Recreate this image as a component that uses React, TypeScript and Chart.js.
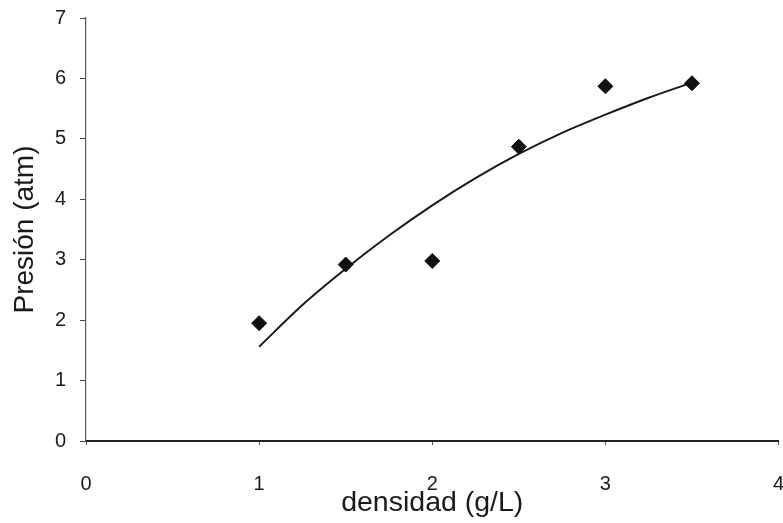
import React, { useEffect, useRef } from "react";
import { Chart, registerables } from "chart.js";

Chart.register(...registerables);

const densidad = [1, 1.5, 2, 2.5, 3, 3.5];
const presion = [1.95, 2.92, 2.98, 4.87, 5.87, 5.92];

const curveX = [1, 1.25, 1.5, 1.75, 2, 2.25, 2.5, 2.75, 3, 3.25, 3.5];
const curveY = [1.56, 2.25, 2.85, 3.4, 3.9, 4.35, 4.75, 5.1, 5.4, 5.68, 5.93];

const xTicks = [0, 1, 2, 3, 4];
const yTicks = [0, 1, 2, 3, 4, 5, 6, 7];

const FONT = "'Liberation Sans', Arial, sans-serif";

export default function App() {
  const ref = useRef<HTMLCanvasElement>(null);
  useEffect(() => {
    const ctx = ref.current!;
    const chart = new Chart(ctx, {
      type: "scatter",
      data: {
        datasets: [
          {
            label: "datos",
            data: densidad.map((x, i) => ({ x, y: presion[i] })),
            pointStyle: "rectRot",
            pointRadius: 7.5,
            backgroundColor: "#111",
            borderColor: "#111",
            showLine: false,
          },
          {
            label: "ajuste",
            data: curveX.map((x, i) => ({ x, y: curveY[i] })),
            showLine: true,
            pointRadius: 0,
            borderColor: "#1a1a1a",
            borderWidth: 2,
            cubicInterpolationMode: "monotone",
            fill: false,
          },
        ],
      },
      options: {
        animation: false,
        responsive: false,
        maintainAspectRatio: false,
        layout: { padding: { left: 0, right: 1, top: 18, bottom: 0 } },
        plugins: { legend: { display: false }, tooltip: { enabled: false } },
        scales: {
          x: {
            type: "linear",
            min: 0,
            max: 4,
            afterBuildTicks: (s: any) => {
              s.ticks = xTicks.map((v) => ({ value: v }));
            },
            afterFit: (s: any) => {
              s.height = 82;
              s.paddingRight = 0;
              s.paddingLeft = 0;
            },
            border: { display: true, color: "#222", width: 2 },
            grid: { display: true, drawOnChartArea: false, tickLength: 4, color: "#555" },
            ticks: {
              color: "#1a1a1a",
              font: { family: FONT, size: 20 },
              padding: 27,
              maxRotation: 0,
            },
            title: {
              display: true,
              text: "densidad (g/L)",
              color: "#1a1a1a",
              font: { family: FONT, size: 28.5 },
              padding: { top: 0, bottom: 3 },
            },
          },
          y: {
            type: "linear",
            min: 0,
            max: 7,
            afterBuildTicks: (s: any) => {
              s.ticks = yTicks.map((v) => ({ value: v }));
            },
            afterFit: (s: any) => {
              s.width = 86;
              s.paddingTop = 0;
              s.paddingBottom = 0;
            },
            border: { display: true, color: "#555", width: 1.2 },
            grid: { display: true, drawOnChartArea: false, tickLength: 6, color: "#444" },
            ticks: {
              color: "#1a1a1a",
              font: { family: FONT, size: 20 },
              padding: 14,
            },
            title: {
              display: true,
              text: "Presión (atm)",
              color: "#1a1a1a",
              font: { family: FONT, size: 28 },
              padding: { top: 8, bottom: 0 },
            },
          },
        },
      },
    } as any);
    return () => chart.destroy();
  }, []);
  return (
    <div
      style={{
        position: "fixed",
        left: 0,
        top: 0,
        width: 783,
        height: 523,
        overflow: "hidden",
        background: "#fff",
      }}
    >
      <canvas ref={ref} width={787} height={523} style={{ width: 787, height: 523, display: "block" }} />
    </div>
  );
}
